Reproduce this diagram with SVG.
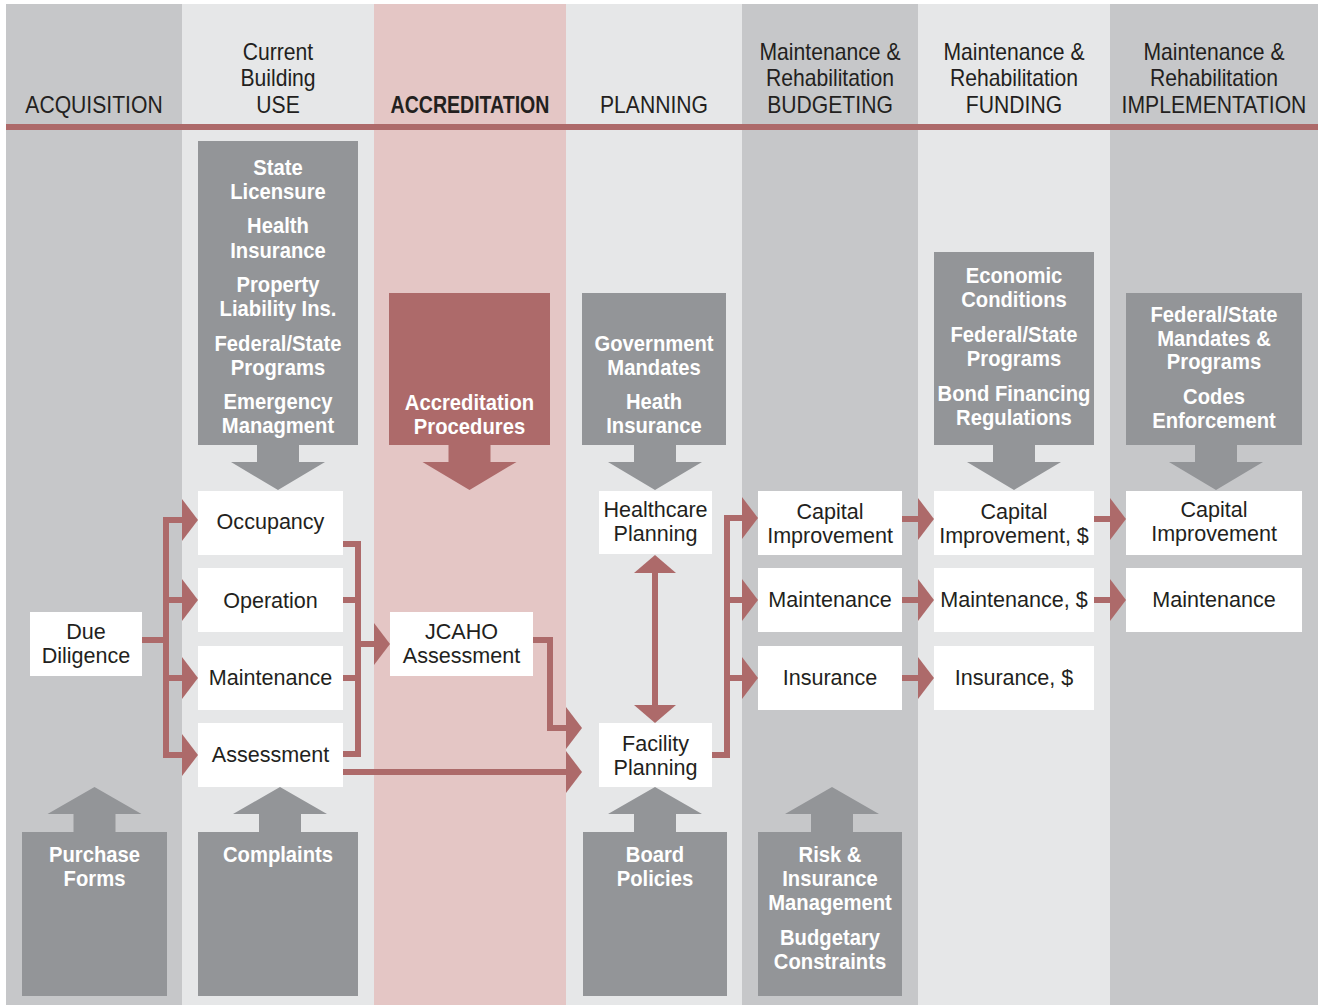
<svg xmlns="http://www.w3.org/2000/svg" xmlns:xlink="http://www.w3.org/1999/xlink" width="1320" height="1007" viewBox="0 0 1320 1007">
<style>
.dk{fill:#c6c7c9}
.lt{fill:#e6e7e8}
.pk{fill:#e4c6c5}
.red{fill:#ad6a6a}
.gb{fill:#939598}
.wb{fill:#ffffff}
.h{font-family:"Liberation Sans",Arial,sans-serif;font-size:23px;fill:#231f20;text-anchor:middle}
.hb{font-family:"Liberation Sans",Arial,sans-serif;font-size:23px;font-weight:bold;fill:#231f20;text-anchor:middle}
.n{font-family:"Liberation Sans",Arial,sans-serif;font-size:22px;fill:#231f20;text-anchor:middle}
.g{font-family:"Liberation Sans",Arial,sans-serif;font-size:22px;font-weight:bold;fill:#ffffff;text-anchor:middle}
.ln{fill:none;stroke:#ad6a6a;stroke-width:6}
</style>
<defs>
<polygon id="ah" points="0,-21 16,0 0,21" fill="#ad6a6a"/>
<polygon id="ahU" points="-21,18 0,0 21,18" fill="#ad6a6a"/>
<polygon id="ahD" points="-21,-18 0,0 21,-18" fill="#ad6a6a"/>
<path id="bad" d="M-21 0 H21 V17 H47 L0 45 L-47 17 H-21 Z"/>
<path id="bau" d="M-21 0 H21 V-18 H47 L0 -45 L-47 -18 H-21 Z"/>
</defs>
<rect x="0" y="0" width="1320" height="1007" fill="#ffffff"/>
<g id="columns">
<rect class="dk" x="6" y="4" width="176" height="1001"/>
<rect class="lt" x="182" y="4" width="192" height="1001"/>
<rect class="pk" x="374" y="4" width="192" height="1001"/>
<rect class="lt" x="566" y="4" width="176" height="1001"/>
<rect class="dk" x="742" y="4" width="176" height="1001"/>
<rect class="lt" x="918" y="4" width="192" height="1001"/>
<rect class="dk" x="1110" y="4" width="208" height="1001"/>
<rect class="red" x="6" y="124" width="1312" height="6"/>
</g>
<g id="headers">
<text class="h" transform="translate(94 0) scale(.92 1)"><tspan x="0" y="113">ACQUISITION</tspan></text>
<text class="h" transform="translate(278 0) scale(.92 1)"><tspan x="0" y="60">Current</tspan><tspan x="0" y="86">Building</tspan><tspan x="0" y="113">USE</tspan></text>
<text class="hb" transform="translate(470 0) scale(.85 1)"><tspan x="0" y="113">ACCREDITATION</tspan></text>
<text class="h" transform="translate(654 0) scale(.92 1)"><tspan x="0" y="113">PLANNING</tspan></text>
<text class="h" transform="translate(830 0) scale(.92 1)"><tspan x="0" y="60">Maintenance &amp;</tspan><tspan x="0" y="86">Rehabilitation</tspan><tspan x="0" y="113">BUDGETING</tspan></text>
<text class="h" transform="translate(1014 0) scale(.92 1)"><tspan x="0" y="60">Maintenance &amp;</tspan><tspan x="0" y="86">Rehabilitation</tspan><tspan x="0" y="113">FUNDING</tspan></text>
<text class="h" transform="translate(1214 0) scale(.92 1)"><tspan x="0" y="60">Maintenance &amp;</tspan><tspan x="0" y="86">Rehabilitation</tspan><tspan x="0" y="113">IMPLEMENTATION</tspan></text>
</g>
<g id="use-factors">
<rect class="gb" x="198" y="141" width="160" height="304"/>
<use xlink:href="#bad" href="#bad" class="gb" x="278" y="445"/>
<text class="g" transform="translate(278 0) scale(.92 1)"><tspan x="0" y="175">State</tspan><tspan x="0" y="199">Licensure</tspan><tspan x="0" y="233">Health</tspan><tspan x="0" y="258">Insurance</tspan><tspan x="0" y="292">Property</tspan><tspan x="0" y="316">Liability Ins.</tspan><tspan x="0" y="351">Federal/State</tspan><tspan x="0" y="375">Programs</tspan><tspan x="0" y="409">Emergency</tspan><tspan x="0" y="433">Managment</tspan></text>
</g>
<g id="accreditation-procedures">
<rect class="red" x="389" y="293" width="161" height="152"/>
<use xlink:href="#bad" href="#bad" class="red" x="469.5" y="445"/>
<text class="g" transform="translate(469.5 0) scale(.92 1)"><tspan x="0" y="410">Accreditation</tspan><tspan x="0" y="434">Procedures</tspan></text>
</g>
<g id="planning-factors">
<rect class="gb" x="582" y="293" width="144" height="152"/>
<use xlink:href="#bad" href="#bad" class="gb" x="655" y="445"/>
<text class="g" transform="translate(654 0) scale(.92 1)"><tspan x="0" y="351">Government</tspan><tspan x="0" y="375">Mandates</tspan><tspan x="0" y="409">Heath</tspan><tspan x="0" y="433">Insurance</tspan></text>
</g>
<g id="funding-factors">
<rect class="gb" x="934" y="252" width="160" height="193"/>
<use xlink:href="#bad" href="#bad" class="gb" x="1014" y="445"/>
<text class="g" transform="translate(1014 0) scale(.92 1)"><tspan x="0" y="283">Economic</tspan><tspan x="0" y="307">Conditions</tspan><tspan x="0" y="342">Federal/State</tspan><tspan x="0" y="366">Programs</tspan><tspan x="0" y="401">Bond Financing</tspan><tspan x="0" y="425">Regulations</tspan></text>
</g>
<g id="implementation-factors">
<rect class="gb" x="1126" y="293" width="176" height="152"/>
<use xlink:href="#bad" href="#bad" class="gb" x="1216" y="445"/>
<text class="g" transform="translate(1214 0) scale(.92 1)"><tspan x="0" y="322">Federal/State</tspan><tspan x="0" y="346">Mandates &amp;</tspan><tspan x="0" y="369">Programs</tspan><tspan x="0" y="404">Codes</tspan><tspan x="0" y="428">Enforcement</tspan></text>
</g>
<g id="purchase-forms">
<rect class="gb" x="22" y="832" width="145" height="164"/>
<use xlink:href="#bau" href="#bau" class="gb" x="94.5" y="832"/>
<text class="g" transform="translate(94.5 0) scale(.92 1)"><tspan x="0" y="862">Purchase</tspan><tspan x="0" y="886">Forms</tspan></text>
</g>
<g id="complaints">
<rect class="gb" x="198" y="832" width="160" height="164"/>
<use xlink:href="#bau" href="#bau" class="gb" x="280" y="832"/>
<text class="g" transform="translate(278 0) scale(.92 1)"><tspan x="0" y="862">Complaints</tspan></text>
</g>
<g id="board-policies">
<rect class="gb" x="583" y="832" width="144" height="164"/>
<use xlink:href="#bau" href="#bau" class="gb" x="655" y="832"/>
<text class="g" transform="translate(655 0) scale(.92 1)"><tspan x="0" y="862">Board</tspan><tspan x="0" y="886">Policies</tspan></text>
</g>
<g id="risk-budget">
<rect class="gb" x="758" y="832" width="144" height="164"/>
<use xlink:href="#bau" href="#bau" class="gb" x="832" y="832"/>
<text class="g" transform="translate(830 0) scale(.92 1)"><tspan x="0" y="862">Risk &amp;</tspan><tspan x="0" y="886">Insurance</tspan><tspan x="0" y="910">Management</tspan><tspan x="0" y="945">Budgetary</tspan><tspan x="0" y="969">Constraints</tspan></text>
</g>
<g id="connectors">
<path class="ln" d="M142 640 H167 M166 517 V758 M166 520 H184 M166 600 H184 M166 678 H184 M166 755 H184"/>
<use xlink:href="#ah" href="#ah" x="182" y="520"/>
<use xlink:href="#ah" href="#ah" x="182" y="600"/>
<use xlink:href="#ah" href="#ah" x="182" y="678"/>
<use xlink:href="#ah" href="#ah" x="182" y="755"/>
<path class="ln" d="M343 544 H361 M358 541 V757 M343 600 H358 M343 678 H358 M343 754 H358 M358 644 H376"/>
<use xlink:href="#ah" href="#ah" x="374" y="644"/>
<path class="ln" d="M343 772 H568"/>
<use xlink:href="#ah" href="#ah" x="566" y="772"/>
<path class="ln" d="M533 640 H550 V728 H568"/>
<use xlink:href="#ah" href="#ah" x="566" y="728"/>
<path class="ln" d="M655 572 V706"/>
<use xlink:href="#ahU" href="#ahU" x="655" y="555"/>
<use xlink:href="#ahD" href="#ahD" x="655" y="723"/>
<path class="ln" d="M712 755 H730 M727 758 V515 M727 518 H744 M727 600 H744 M727 678 H744"/>
<use xlink:href="#ah" href="#ah" x="742" y="518"/>
<use xlink:href="#ah" href="#ah" x="742" y="600"/>
<use xlink:href="#ah" href="#ah" x="742" y="678"/>
<path class="ln" d="M902 519 H920 M902 600 H920 M902 678 H920 M1094 519 H1112 M1094 600 H1112"/>
<use xlink:href="#ah" href="#ah" x="918" y="519"/>
<use xlink:href="#ah" href="#ah" x="918" y="600"/>
<use xlink:href="#ah" href="#ah" x="918" y="678"/>
<use xlink:href="#ah" href="#ah" x="1110" y="519"/>
<use xlink:href="#ah" href="#ah" x="1110" y="600"/>
</g>
<g id="due-diligence"><rect class="wb" x="30" y="612" width="112" height="64"/><text class="n" transform="translate(86 0) scale(.98 1)"><tspan x="0" y="639">Due</tspan><tspan x="0" y="663">Diligence</tspan></text></g>
<g id="occupancy"><rect class="wb" x="198" y="491" width="145" height="64"/><text class="n" transform="translate(270.5 0) scale(.98 1)"><tspan x="0" y="529">Occupancy</tspan></text></g>
<g id="operation"><rect class="wb" x="198" y="568" width="145" height="64"/><text class="n" transform="translate(270.5 0) scale(.98 1)"><tspan x="0" y="608">Operation</tspan></text></g>
<g id="maintenance-use"><rect class="wb" x="198" y="646" width="145" height="64"/><text class="n" transform="translate(270.5 0) scale(.98 1)"><tspan x="0" y="685">Maintenance</tspan></text></g>
<g id="assessment"><rect class="wb" x="198" y="723" width="145" height="64"/><text class="n" transform="translate(270.5 0) scale(.98 1)"><tspan x="0" y="762">Assessment</tspan></text></g>
<g id="jcaho"><rect class="wb" x="390" y="612" width="143" height="64"/><text class="n" transform="translate(461.5 0) scale(.98 1)"><tspan x="0" y="639">JCAHO</tspan><tspan x="0" y="663">Assessment</tspan></text></g>
<g id="healthcare-planning"><rect class="wb" x="599" y="491" width="113" height="63"/><text class="n" transform="translate(655.5 0) scale(.98 1)"><tspan x="0" y="517">Healthcare</tspan><tspan x="0" y="541">Planning</tspan></text></g>
<g id="facility-planning"><rect class="wb" x="599" y="723" width="113" height="64"/><text class="n" transform="translate(655.5 0) scale(.98 1)"><tspan x="0" y="751">Facility</tspan><tspan x="0" y="775">Planning</tspan></text></g>
<g id="budget-capital"><rect class="wb" x="758" y="491" width="144" height="64"/><text class="n" transform="translate(830 0) scale(.98 1)"><tspan x="0" y="519">Capital</tspan><tspan x="0" y="543">Improvement</tspan></text></g>
<g id="budget-maintenance"><rect class="wb" x="758" y="568" width="144" height="64"/><text class="n" transform="translate(830 0) scale(.98 1)"><tspan x="0" y="607">Maintenance</tspan></text></g>
<g id="budget-insurance"><rect class="wb" x="758" y="646" width="144" height="64"/><text class="n" transform="translate(830 0) scale(.98 1)"><tspan x="0" y="685">Insurance</tspan></text></g>
<g id="funding-capital"><rect class="wb" x="934" y="491" width="160" height="64"/><text class="n" transform="translate(1014 0) scale(.98 1)"><tspan x="0" y="519">Capital</tspan><tspan x="0" y="543">Improvement, $</tspan></text></g>
<g id="funding-maintenance"><rect class="wb" x="934" y="568" width="160" height="64"/><text class="n" transform="translate(1014 0) scale(.98 1)"><tspan x="0" y="607">Maintenance, $</tspan></text></g>
<g id="funding-insurance"><rect class="wb" x="934" y="646" width="160" height="64"/><text class="n" transform="translate(1014 0) scale(.98 1)"><tspan x="0" y="685">Insurance, $</tspan></text></g>
<g id="impl-capital"><rect class="wb" x="1126" y="491" width="176" height="64"/><text class="n" transform="translate(1214 0) scale(.98 1)"><tspan x="0" y="517">Capital</tspan><tspan x="0" y="541">Improvement</tspan></text></g>
<g id="impl-maintenance"><rect class="wb" x="1126" y="568" width="176" height="64"/><text class="n" transform="translate(1214 0) scale(.98 1)"><tspan x="0" y="607">Maintenance</tspan></text></g>
</svg>
